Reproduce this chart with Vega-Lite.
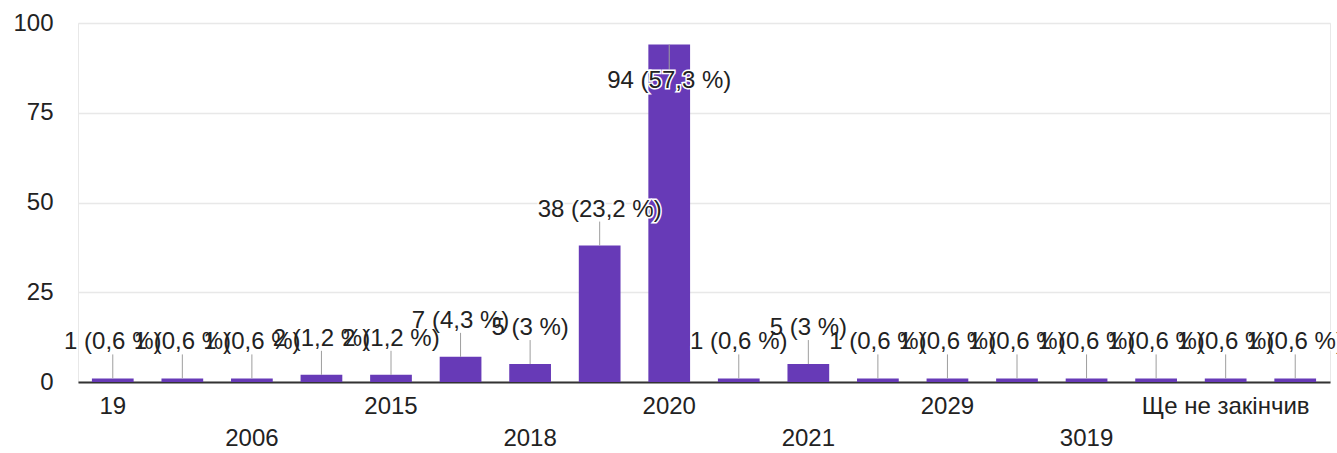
{
  "$schema": "https://vega.github.io/schema/vega-lite/v6.json",
  "autosize": "none",
  "width": 1252,
  "height": 359,
  "padding": {"left": 78, "top": 23, "right": 7, "bottom": 71},
  "background": "white",
  "config": {
    "view": {"stroke": "#e8e8e8", "strokeWidth": 1},
    "font": "Liberation Sans"
  },
  "data": {
    "values": [
      {"year": "19", "count": 1, "label": "1 (0,6 %)"},
      {"year": "2005", "count": 1, "label": "1 (0,6 %)"},
      {"year": "2006", "count": 1, "label": "1 (0,6 %)"},
      {"year": "2014", "count": 2, "label": "2 (1,2 %)"},
      {"year": "2015", "count": 2, "label": "2 (1,2 %)"},
      {"year": "2017", "count": 7, "label": "7 (4,3 %)"},
      {"year": "2018", "count": 5, "label": "5 (3 %)"},
      {"year": "2019", "count": 38, "label": "38 (23,2 %)"},
      {"year": "2020", "count": 94, "label": "94 (57,3 %)"},
      {"year": "2020р", "count": 1, "label": "1 (0,6 %)"},
      {"year": "2021", "count": 5, "label": "5 (3 %)"},
      {"year": "2022", "count": 1, "label": "1 (0,6 %)"},
      {"year": "2029", "count": 1, "label": "1 (0,6 %)"},
      {"year": "2030", "count": 1, "label": "1 (0,6 %)"},
      {"year": "3019", "count": 1, "label": "1 (0,6 %)"},
      {"year": "4019", "count": 1, "label": "1 (0,6 %)"},
      {"year": "Ще не закінчив", "count": 1, "label": "1 (0,6 %)"},
      {"year": "Ще ні", "count": 1, "label": "1 (0,6 %)"}
    ]
  },
  "encoding": {
    "x": {
      "field": "year",
      "type": "nominal",
      "sort": null,
      "scale": {"paddingInner": 0.4, "paddingOuter": 0.2},
      "axis": {
        "title": null,
        "labelAngle": 0,
        "labelFont": "Liberation Sans",
        "labelFontSize": 24,
        "labelColor": "#222222",
        "labelPadding": 12,
        "labelLineHeight": 32,
        "labelOverlap": false,
        "labelBound": false,
        "labelFlush": false,
        "ticks": false,
        "domainColor": "#333333",
        "domainWidth": 2,
        "labelExpr": "round(datum.index*17) % 2 == 1 ? '' : (round(datum.index*17) % 4 == 2 ? ['', datum.label] : datum.label)"
      }
    },
    "y": {
      "field": "count",
      "type": "quantitative",
      "scale": {"domain": [0, 100], "nice": false},
      "axis": {
        "title": null,
        "values": [0, 25, 50, 75, 100],
        "labelFont": "Liberation Sans",
        "labelFontSize": 24,
        "labelColor": "#222222",
        "labelPadding": 25,
        "ticks": false,
        "domain": false,
        "gridColor": "#e8e8e8",
        "gridWidth": 1.5
      }
    }
  },
  "layer": [
    {"mark": {"type": "bar", "color": "#673ab7"}},
    {
      "transform": [{"filter": "datum.count < 90"}],
      "mark": {"type": "rule", "color": "#9e9e9e", "strokeWidth": 1, "y2Offset": -24},
      "encoding": {"y2": {"field": "count"}}
    },
    {
      "transform": [{"filter": "datum.count >= 90"}],
      "mark": {"type": "rule", "color": "#9e9e9e", "strokeWidth": 1, "y2Offset": 25},
      "encoding": {"y2": {"field": "count"}}
    },
    {
      "transform": [{"filter": "datum.count < 90"}],
      "mark": {"type": "text", "font": "Liberation Sans", "fontSize": 24, "baseline": "middle", "dy": -36, "stroke": "white", "strokeWidth": 3, "fill": "white"},
      "encoding": {"text": {"field": "label"}}
    },
    {
      "transform": [{"filter": "datum.count >= 90"}],
      "mark": {"type": "text", "font": "Liberation Sans", "fontSize": 24, "baseline": "middle", "dy": 36, "stroke": "white", "strokeWidth": 3, "fill": "white"},
      "encoding": {"text": {"field": "label"}}
    },
    {
      "transform": [{"filter": "datum.count < 90"}],
      "mark": {"type": "text", "font": "Liberation Sans", "fontSize": 24, "baseline": "middle", "dy": -36, "color": "#222222"},
      "encoding": {"text": {"field": "label"}}
    },
    {
      "transform": [{"filter": "datum.count >= 90"}],
      "mark": {"type": "text", "font": "Liberation Sans", "fontSize": 24, "baseline": "middle", "dy": 36, "color": "#222222"},
      "encoding": {"text": {"field": "label"}}
    }
  ]
}
